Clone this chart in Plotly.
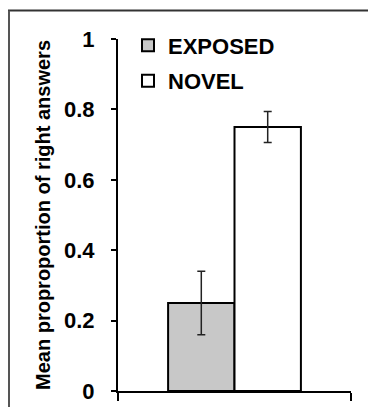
import plotly.graph_objects as go

categories = ["Condition"]
series_names = ["EXPOSED", "NOVEL"]
exposed_values = [0.25]
novel_values = [0.75]
exposed_err = [0.09]
novel_err = [0.044]
y_tickvals = [0, 0.2, 0.4, 0.6, 0.8, 1.0]
y_ticktext = ["0", "0.2", "0.4", "0.6", "0.8", "1"]
y_title = "Mean proproportion of right answers"

FONT = "Liberation Sans, Arial, sans-serif"
OFF = 8  # page body margin offset
W, H = 360, 399
L, T = 118 - OFF, 39 - OFF
PW, PH = 233, 352
R = W - L - PW
B = H - T - PH

def px_x(p):
    return (p - OFF - L) / PW

def px_y(p):
    return (T + PH - (p - OFF)) / PH

fig = go.Figure()
fig.add_trace(go.Bar(
    x=categories, y=exposed_values, name=series_names[0],
    marker=dict(color="#c8c8c8", line=dict(color="black", width=2)),
    error_y=dict(type="data", array=exposed_err, color="#222", thickness=1.5, width=4),
    legend="legend",
))
fig.add_trace(go.Bar(
    x=categories, y=novel_values, name=series_names[1],
    marker=dict(color="white", line=dict(color="black", width=2)),
    error_y=dict(type="data", array=novel_err, color="#222", thickness=1.5, width=4),
    legend="legend2",
))

legend_common = dict(
    font=dict(family=FONT, size=22, color="black", weight="bold"),
    bgcolor="rgba(0,0,0,0)", xanchor="left", yanchor="middle",
    itemclick=False, itemdoubleclick=False,
)

fig.update_layout(
    width=W, height=H,
    margin=dict(l=L, r=R, t=T, b=B, pad=0, autoexpand=False),
    paper_bgcolor="white", plot_bgcolor="white",
    barmode="group", bargap=0.43, bargroupgap=0,
    showlegend=True,
    legend=dict(x=px_x(128), y=px_y(45.5), **legend_common),
    legend2=dict(x=px_x(128), y=px_y(81), **legend_common),
    font=dict(family=FONT, color="black"),
    xaxis=dict(
        type="category", range=[-0.5, 0.5], showticklabels=False,
        tickson="boundaries", ticks="outside", ticklen=8, tickwidth=2, tickcolor="black",
        showline=True, linewidth=2, linecolor="black", showgrid=False, zeroline=False,
        fixedrange=True, automargin=False,
    ),
    yaxis=dict(
        range=[0, 1], tickmode="array", tickvals=y_tickvals, ticktext=y_ticktext,
        ticks="outside", ticklen=5, tickwidth=2, tickcolor="black",
        tickfont=dict(family=FONT, size=22, color="black", weight="bold"),
        ticklabelstandoff=12, ticklabeloverflow="allow",
        showline=True, linewidth=2, linecolor="black", showgrid=False, zeroline=False,
        title=dict(text=y_title, font=dict(family=FONT, size=20, color="black", weight="bold"), standoff=8),
        automargin="left", fixedrange=True,
    ),
    shapes=[
        dict(type="line", xref="paper", yref="paper",
             x0=px_x(8), x1=px_x(400), y0=px_y(10.5), y1=px_y(10.5),
             line=dict(color="#333", width=2), layer="below"),
        dict(type="line", xref="paper", yref="paper",
             x0=px_x(9), x1=px_x(9), y0=px_y(10.5), y1=px_y(430),
             line=dict(color="#555", width=2), layer="below"),
    ],
)

fig.write_html("out.html")
